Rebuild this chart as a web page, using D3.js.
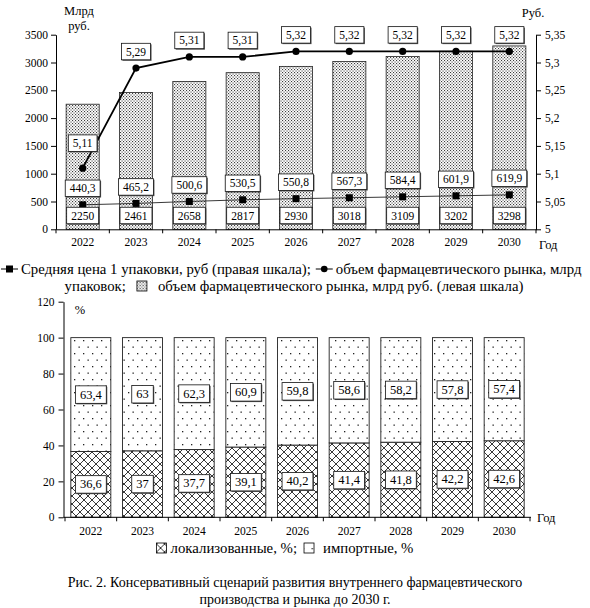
<!DOCTYPE html>
<html>
<head>
<meta charset="utf-8">
<script src="https://cdn.jsdelivr.net/npm/d3@7"></script>
<style>
  body { margin: 0; background: #fff; }
  svg, svg text { font-family: "Liberation Serif", "Times New Roman", Times, serif !important; }
</style>
</head>
<body>
<div id="chart"></div>
<script>
// Data
const years = ["2022", "2023", "2024", "2025", "2026", "2027", "2028", "2029", "2030"];
const marketRub = [2250, 2461, 2658, 2817, 2930, 3018, 3109, 3202, 3298];
const marketPacks = [440.3, 465.2, 500.6, 530.5, 550.8, 567.3, 584.4, 601.9, 619.9];
const avgPrice = [5.11, 5.29, 5.31, 5.31, 5.32, 5.32, 5.32, 5.32, 5.32];
const localShare = [36.6, 37, 37.7, 39.1, 40.2, 41.4, 41.8, 42.2, 42.6];
const importShare = [63.4, 63, 62.3, 60.9, 59.8, 58.6, 58.2, 57.8, 57.4];
const leftTicks = [0, 500, 1000, 1500, 2000, 2500, 3000, 3500];
const rightTicks = [5, 5.05, 5.1, 5.15, 5.2, 5.25, 5.3, 5.35];
const pctTicks = [0, 20, 40, 60, 80, 100, 120];

const width = 590;
const height = 608;
const comma = v => String(v).replace(".", ",");

const svg = d3.select("#chart")
  .append("svg")
    .attr("width", width)
    .attr("height", height);

// Patterns
const defs = svg.append("defs");
defs.append("pattern")
    .attr("id", "dense")
    .attr("width", 3)
    .attr("height", 3)
    .attr("patternUnits", "userSpaceOnUse")
  .call(p => {
    p.append("rect").attr("width", 3).attr("height", 3).attr("fill", "#fff");
    p.append("rect").attr("x", 0).attr("y", 0).attr("width", 1.1).attr("height", 1.1).attr("fill", "#3a3a3a");
    p.append("rect").attr("x", 1.5).attr("y", 1.5).attr("width", 1.1).attr("height", 1.1).attr("fill", "#3a3a3a");
  });
defs.append("pattern")
    .attr("id", "cross")
    .attr("width", 8)
    .attr("height", 8)
    .attr("patternUnits", "userSpaceOnUse")
  .call(p => {
    p.append("rect").attr("width", 8).attr("height", 8).attr("fill", "#fff");
    p.append("path").attr("d", "M0,0L8,8M8,0L0,8M-1,7L1,9M7,-1L9,1").attr("stroke", "#222").attr("stroke-width", 0.9);
  });
defs.append("pattern")
    .attr("id", "sparse")
    .attr("width", 9)
    .attr("height", 13)
    .attr("patternUnits", "userSpaceOnUse")
  .call(p => {
    p.append("rect").attr("width", 9).attr("height", 13).attr("fill", "#fff");
    p.append("rect").attr("x", 2).attr("y", 2).attr("width", 1.3).attr("height", 1.3).attr("fill", "#222");
    p.append("rect").attr("x", 6.5).attr("y", 8.5).attr("width", 1.3).attr("height", 1.3).attr("fill", "#222");
  });

// Boxed label helper
const boxLabel = (g, x, y, text, size) => {
  const t = g.append("text")
      .attr("x", x)
      .attr("y", y)
      .attr("text-anchor", "middle")
      .attr("dominant-baseline", "central")
      .attr("font-size", size)
      .text(text);
  const w = t.node().getComputedTextLength() + 9;
  const h = size + 5;
  g.insert("rect", () => t.node())
      .attr("x", x - w / 2 + 1).attr("y", y - h / 2 + 1)
      .attr("width", w).attr("height", h)
      .attr("fill", "#555");
  g.insert("rect", () => t.node())
      .attr("x", x - w / 2).attr("y", y - h / 2)
      .attr("width", w).attr("height", h)
      .attr("fill", "#fff")
      .attr("stroke", "#111")
      .attr("stroke-width", 0.8);
};

// ---------- Top chart ----------
const m1 = { left: 56, right: 536, top: 34.7, bottom: 229.3 };
const x1 = d3.scaleBand()
  .domain(years)
  .range([m1.left, m1.right])
  .paddingInner(0.38)
  .paddingOuter(0.19);
const yL = d3.scaleLinear().domain([0, 3500]).range([m1.bottom, m1.top]);
const yR = d3.scaleLinear().domain([5, 5.35]).range([m1.bottom, m1.top]);

const g1 = svg.append("g");

g1.append("g")
  .selectAll("rect")
  .data(marketRub)
  .join("rect")
    .attr("x", (d, i) => x1(years[i]))
    .attr("y", d => yL(d))
    .attr("width", x1.bandwidth())
    .attr("height", d => yL(0) - yL(d))
    .attr("fill", "url(#dense)")
    .attr("stroke", "#222")
    .attr("stroke-width", 0.8);

// Axes
g1.append("g")
    .attr("transform", `translate(${m1.left},0)`)
    .call(d3.axisLeft(yL).tickValues(leftTicks).tickSize(5).tickSizeOuter(0).tickPadding(3).tickFormat(d => d))
    .call(a => a.selectAll("text").attr("font-size", 11.5));
g1.append("g")
    .attr("transform", `translate(${m1.right},0)`)
    .call(d3.axisRight(yR).tickValues(rightTicks).tickSize(5).tickSizeOuter(0).tickPadding(4).tickFormat(comma))
    .call(a => a.selectAll("text").attr("font-size", 11.5));
g1.append("g")
    .attr("transform", `translate(0,${m1.bottom})`)
    .call(d3.axisBottom(x1).tickSize(0).tickSizeOuter(0).tickPadding(9))
    .call(a => a.selectAll("text").attr("font-size", 11.5));
g1.append("g")
  .selectAll("line")
  .data(d3.range(years.length + 1))
  .join("line")
    .attr("x1", i => m1.left + i * x1.step())
    .attr("x2", i => m1.left + i * x1.step())
    .attr("y1", m1.bottom)
    .attr("y2", m1.bottom + 4)
    .attr("stroke", "#000");

// Square series (объем, млрд упаковок)
const lineSq = d3.line().x((d, i) => x1(years[i]) + x1.bandwidth() / 2).y(d => yL(d));
g1.append("path")
    .datum(marketPacks)
    .attr("d", lineSq)
    .attr("fill", "none")
    .attr("stroke", "#222")
    .attr("stroke-width", 0.9);
g1.append("g")
  .selectAll("rect")
  .data(marketPacks)
  .join("rect")
    .attr("x", (d, i) => x1(years[i]) + x1.bandwidth() / 2 - 3.5)
    .attr("y", d => yL(d) - 3.5)
    .attr("width", 7)
    .attr("height", 7)
    .attr("fill", "#000");

// Circle series (средняя цена)
const lineCi = d3.line().x((d, i) => x1(years[i]) + x1.bandwidth() / 2).y(d => yR(d));
g1.append("path")
    .datum(avgPrice)
    .attr("d", lineCi)
    .attr("fill", "none")
    .attr("stroke", "#000")
    .attr("stroke-width", 1.8);
g1.append("g")
  .selectAll("circle")
  .data(avgPrice)
  .join("circle")
    .attr("cx", (d, i) => x1(years[i]) + x1.bandwidth() / 2)
    .attr("cy", d => yR(d))
    .attr("r", 3.6)
    .attr("fill", "#000");

// Labels
const lab1 = g1.append("g");
marketRub.forEach((d, i) => boxLabel(lab1, x1(years[i]) + x1.bandwidth() / 2, 215.5, comma(d), 11.5));
marketPacks.forEach((d, i) => boxLabel(lab1, x1(years[i]) + x1.bandwidth() / 2, yL(d) - 16.5, comma(d), 11.5));
avgPrice.forEach((d, i) => boxLabel(lab1, x1(years[i]) + x1.bandwidth() / 2, yR(d) - (i === 0 ? 25 : 16.5), comma(d), 11.5));

g1.append("text").attr("x", 79).attr("y", 15).attr("text-anchor", "middle").attr("font-size", 12.5).text("Млрд");
g1.append("text").attr("x", 79).attr("y", 30).attr("text-anchor", "middle").attr("font-size", 12.5).text("руб.");
g1.append("text").attr("x", 533).attr("y", 17).attr("text-anchor", "middle").attr("font-size", 12.5).text("Руб.");
g1.append("text").attr("x", 539).attr("y", 249).attr("font-size", 12.5).text("Год");

// Legend (top)
const legSize = 14.8;
const leg1 = svg.append("g").attr("font-size", legSize);
let cx = 1;
const ly1 = 269;
const lineSym = (g, x, y, marker) => {
  g.append("line").attr("x1", x).attr("x2", x + 17).attr("y1", y).attr("y2", y).attr("stroke", "#000").attr("stroke-width", 1);
  if (marker === "square") {
    g.append("rect").attr("x", x + 5).attr("y", y - 3.5).attr("width", 7).attr("height", 7).attr("fill", "#000");
  } else {
    g.append("circle").attr("cx", x + 8.5).attr("cy", y).attr("r", 3.3).attr("fill", "#000");
  }
};
lineSym(leg1, cx, ly1, "square");
cx += 20;
let t = leg1.append("text").attr("x", cx).attr("y", ly1).attr("dominant-baseline", "central")
  .text("Средняя цена 1 упаковки, руб (правая шкала);");
cx += t.node().getComputedTextLength() + 5;
lineSym(leg1, cx, ly1, "circle");
cx += 20;
leg1.append("text").attr("x", cx).attr("y", ly1).attr("dominant-baseline", "central")
  .text("объем фармацевтического рынка, млрд");

const ly2 = 286;
const l2 = leg1.append("g");
let c2 = 0;
t = l2.append("text").attr("x", c2).attr("y", ly2).attr("dominant-baseline", "central").text("упаковок;");
c2 += t.node().getComputedTextLength() + 11;
l2.append("rect").attr("x", c2).attr("y", ly2 - 5).attr("width", 10).attr("height", 10)
  .attr("fill", "url(#dense)").attr("stroke", "#000").attr("stroke-width", 0.8);
c2 += 21;
t = l2.append("text").attr("x", c2).attr("y", ly2).attr("dominant-baseline", "central")
  .text("объем фармацевтического рынка, млрд руб. (левая шкала)");
c2 += t.node().getComputedTextLength();
l2.attr("transform", `translate(${(width - c2) / 2 - 1},0)`);

// ---------- Bottom chart ----------
const m2 = { left: 63.5, right: 531, top: 301.7, bottom: 517.3 };
const x2 = d3.scaleBand()
  .domain(years)
  .range([65, 530])
  .paddingInner(0.226)
  .paddingOuter(0.113);
const yP = d3.scaleLinear().domain([0, 120]).range([m2.bottom, m2.top]);

const g2 = svg.append("g");
g2.append("g")
  .selectAll("rect")
  .data(localShare)
  .join("rect")
    .attr("x", (d, i) => x2(years[i]))
    .attr("y", d => yP(d))
    .attr("width", x2.bandwidth())
    .attr("height", d => yP(0) - yP(d))
    .attr("fill", "url(#cross)")
    .attr("stroke", "#222")
    .attr("stroke-width", 0.9);
g2.append("g")
  .selectAll("rect")
  .data(importShare)
  .join("rect")
    .attr("x", (d, i) => x2(years[i]))
    .attr("y", (d, i) => yP(localShare[i] + d))
    .attr("width", x2.bandwidth())
    .attr("height", d => yP(0) - yP(d))
    .attr("fill", "url(#sparse)")
    .attr("stroke", "#222")
    .attr("stroke-width", 0.9);

g2.append("g")
    .attr("transform", `translate(${m2.left},0)`)
    .call(d3.axisLeft(yP).tickValues(pctTicks).tickSize(5).tickSizeOuter(0).tickPadding(4))
    .call(a => a.selectAll("text").attr("font-size", 11.5));
g2.append("line")
    .attr("x1", m2.left).attr("x2", m2.right)
    .attr("y1", m2.bottom).attr("y2", m2.bottom)
    .attr("stroke", "#000");
g2.append("g")
    .attr("transform", `translate(0,${m2.bottom})`)
    .call(d3.axisBottom(x2).tickSize(0).tickSizeOuter(0).tickPadding(10))
    .call(a => a.select(".domain").remove())
    .call(a => a.selectAll("text").attr("font-size", 11.5));
g2.append("g")
  .selectAll("line")
  .data(d3.range(years.length + 1))
  .join("line")
    .attr("x1", i => 65 + i * x2.step())
    .attr("x2", i => 65 + i * x2.step())
    .attr("y1", m2.bottom)
    .attr("y2", m2.bottom + 4)
    .attr("stroke", "#000");

const lab2 = g2.append("g");
localShare.forEach((d, i) => boxLabel(lab2, x2(years[i]) + x2.bandwidth() / 2, yP(d / 2), comma(d), 12.5));
importShare.forEach((d, i) => boxLabel(lab2, x2(years[i]) + x2.bandwidth() / 2, yP(localShare[i] + d / 2), comma(d), 12.5));

g2.append("text").attr("x", 80).attr("y", 314).attr("text-anchor", "middle").attr("font-size", 12.5).text("%");
g2.append("text").attr("x", 537).attr("y", 522).attr("font-size", 12.5).text("Год");

// Legend (bottom)
const leg2 = svg.append("g").attr("font-size", legSize);
const ly3 = 548;
let c3 = 0;
leg2.append("rect").attr("x", c3).attr("y", ly3 - 5).attr("width", 10).attr("height", 10)
  .attr("fill", "url(#cross)").attr("stroke", "#000").attr("stroke-width", 0.8);
c3 += 14;
t = leg2.append("text").attr("x", c3).attr("y", ly3).attr("dominant-baseline", "central").text("локализованные, %;");
c3 += t.node().getComputedTextLength() + 7;
leg2.append("rect").attr("x", c3).attr("y", ly3 - 5).attr("width", 10).attr("height", 10)
  .attr("fill", "url(#sparse)").attr("stroke", "#000").attr("stroke-width", 0.8);
c3 += 19;
t = leg2.append("text").attr("x", c3).attr("y", ly3).attr("dominant-baseline", "central").text("импортные, %");
c3 += t.node().getComputedTextLength();
leg2.attr("transform", `translate(${(width - c3) / 2 - 10},0)`);

// Caption
const cap = svg.append("g").attr("font-size", 14).attr("text-anchor", "middle");
cap.append("text").attr("x", 295).attr("y", 587)
  .text("Рис. 2. Консервативный сценарий развития внутреннего фармацевтического");
cap.append("text").attr("x", 295).attr("y", 604)
  .text("производства и рынка до 2030 г.");
</script>
</body>
</html>
